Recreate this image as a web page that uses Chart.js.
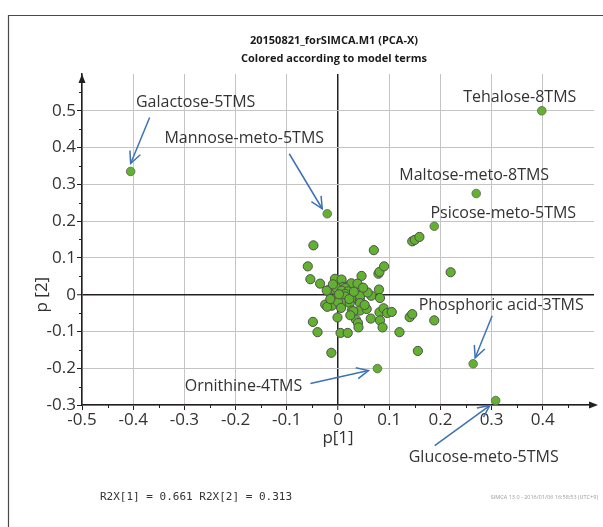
<!DOCTYPE html>
<html>
<head>
<meta charset="utf-8">
<script src="https://cdn.jsdelivr.net/npm/chart.js@4/dist/chart.umd.min.js"></script>
<style>
  html, body { margin: 0; padding: 0; background: #fff; }
  #wrap { position: relative; width: 603px; height: 527px; }
</style>
</head>
<body>
<div id="wrap"><canvas id="c" width="603" height="527"></canvas></div>
<script>
// ---- Data ----
const chartTitle = "20150821_forSIMCA.M1 (PCA-X)";
const chartSubtitle = "Colored according to model terms";
const xAxisTitle = "p[1]";
const yAxisTitle = "p [2]";
const footerText = "R2X[1] = 0.661 R2X[2] = 0.313";
const stampText = "SIMCA 13.0 - 2016/01/06 16:58:53 (UTC+9)";

// unlabeled loadings p[1], p[2]
const p1 = [0.145,0.150,0.159,-0.048,0.070,-0.059,-0.054,-0.035,0.079,0.081,0.090,0.046,0.220,
  -0.006,0.007,-0.019,-0.006,0.010,0.020,0.036,0.026,0.038,-0.003,0.014,-0.022,0.007,0.020,0.036,0.014,
  0.080,0.065,-0.003,0.014,0.030,0.043,0.043,0.082,-0.025,-0.012,-0.021,0.010,0.023,0.043,0.000,
  0.027,0.043,0.056,0.030,0.081,0.089,0.096,0.105,-0.001,0.035,0.039,0.040,0.064,0.082,0.087,
  0.140,0.145,0.188,-0.049,-0.040,0.005,0.019,0.120,-0.013,0.156,
  0.002,0.022,-0.010,0.031,0.052,-0.015,0.006,0.058,0.024,0.049];
const p2 = [0.145,0.149,0.157,0.134,0.121,0.077,0.042,0.030,0.057,0.062,0.077,0.051,0.061,
  0.043,0.041,0.012,0.014,0.021,0.024,0.027,0.031,0.030,0.018,0.018,0.011,0.011,0.009,0.000,0.002,
  0.014,-0.003,-0.009,-0.005,-0.009,-0.014,-0.003,-0.009,-0.027,-0.030,-0.033,-0.023,-0.023,-0.023,-0.020,
  -0.043,-0.043,-0.039,-0.045,-0.048,-0.037,-0.050,-0.047,-0.062,-0.068,-0.077,-0.089,-0.065,-0.070,-0.089,
  -0.061,-0.053,-0.070,-0.074,-0.102,-0.104,-0.104,-0.102,-0.158,-0.153,
  0.001,-0.012,0.028,0.008,-0.028,-0.012,-0.036,0.006,-0.056,0.019];

// labeled variables
const labelNames = ["Galactose-5TMS","Mannose-meto-5TMS","Tehalose-8TMS","Maltose-meto-8TMS",
  "Psicose-meto-5TMS","Phosphoric acid-3TMS","Ornithine-4TMS","Glucose-meto-5TMS"];
const labelP1 = [-0.405,-0.021,0.398,0.270,0.188,0.264,0.077,0.308];
const labelP2 = [0.335,0.220,0.500,0.275,0.186,-0.188,-0.201,-0.288];

// axis ticks
const xTicks = [-0.5,-0.4,-0.3,-0.2,-0.1,0,0.1,0.2,0.3,0.4];
const yTicks = [-0.3,-0.2,-0.1,0,0.1,0.2,0.3,0.4,0.5];

// ---- Layout (pixel offsets from the point: label centre, arrow start, arrow tip) ----
const labelLayout = [
  {lx: 65, ly: -69, arrow: [19, -54, 0, -8]},
  {lx: -83, ly: -75, arrow: [-38, -60, -5, -5]},
  {lx: -22, ly: -13, arrow: null},
  {lx: -2, ly: -18, arrow: null},
  {lx: 69, ly: -13, arrow: null},
  {lx: 28, ly: -58, arrow: [19, -48, 2, -6]},
  {lx: -134, ly: 18, arrow: [-67, 15, -9, 2]},
  {lx: -12, ly: 57, arrow: [-61, 45, -6, 5]}
];

const FONT = "'Open Sans', 'Noto Sans', sans-serif";
const GREEN = '#62b22f';
const AXIS = '#231f20';

const pts = p1.map((x, i) => ({x, y: p2[i]}));
const lpts = labelP1.map((x, i) => ({x, y: labelP2[i]}));

function drawArrowHead(ctx, x0, y0, x1, y1, len) {
  const a = Math.atan2(y1 - y0, x1 - x0);
  const s = Math.PI / 7;
  ctx.beginPath();
  ctx.moveTo(x1 - len * Math.cos(a - s), y1 - len * Math.sin(a - s));
  ctx.lineTo(x1, y1);
  ctx.lineTo(x1 - len * Math.cos(a + s), y1 - len * Math.sin(a + s));
  ctx.stroke();
}

const decor = {
  id: 'decor',
  beforeDraw(chart) {
    const ctx = chart.ctx;
    ctx.save();
    ctx.fillStyle = '#fff';
    ctx.fillRect(0, 0, chart.width, chart.height);
    // frame
    ctx.strokeStyle = '#4a4a4a';
    ctx.lineWidth = 1.2;
    ctx.beginPath();
    ctx.moveTo(8.5, chart.height);
    ctx.lineTo(8.5, 15.5);
    ctx.lineTo(chart.width, 15.5);
    ctx.stroke();
    // titles
    ctx.fillStyle = '#1a1a1a';
    ctx.textAlign = 'center';
    ctx.textBaseline = 'middle';
    ctx.font = "bold 11px " + FONT;
    ctx.fillText(chartTitle, 334, 41);
    ctx.fillText(chartSubtitle, 334, 59);
    // footer
    ctx.textAlign = 'left';
    ctx.fillStyle = '#333';
    ctx.font = "11px 'DejaVu Sans Mono', monospace";
    ctx.fillText(footerText, 100, 497);
    ctx.textAlign = 'right';
    ctx.fillStyle = '#9a9a9a';
    ctx.font = "5.5px " + FONT;
    ctx.fillText(stampText, 598, 497);
    ctx.restore();
  },
  afterDraw(chart) {
    const ctx = chart.ctx;
    const xs = chart.scales.x, ys = chart.scales.y;
    const a = chart.chartArea;
    ctx.save();
    ctx.strokeStyle = AXIS;
    ctx.fillStyle = AXIS;
    ctx.lineWidth = 1;
    // minor ticks
    for (let v = -0.45; v < 0.5; v += 0.1) {
      const px = Math.round(xs.getPixelForValue(v)) + 0.5;
      ctx.beginPath(); ctx.moveTo(px, a.bottom); ctx.lineTo(px, a.bottom + 3); ctx.stroke();
    }
    for (let v = -0.25; v < 0.6; v += 0.1) {
      const py = Math.round(ys.getPixelForValue(v)) + 0.5;
      ctx.beginPath(); ctx.moveTo(a.left, py); ctx.lineTo(a.left - 3, py); ctx.stroke();
    }
    // axis arrows
    ctx.beginPath();
    ctx.moveTo(a.right + 4, a.bottom);
    ctx.lineTo(a.right - 5, a.bottom - 3.5);
    ctx.lineTo(a.right - 5, a.bottom + 3.5);
    ctx.closePath(); ctx.fill();
    ctx.beginPath();
    ctx.moveTo(a.left, a.top);
    ctx.lineTo(a.left - 3.5, a.top + 9);
    ctx.lineTo(a.left + 3.5, a.top + 9);
    ctx.closePath(); ctx.fill();
    // y axis title
    ctx.save();
    ctx.translate(42, ys.getPixelForValue(0));
    ctx.rotate(-Math.PI / 2);
    ctx.textAlign = 'center';
    ctx.textBaseline = 'middle';
    ctx.fillStyle = '#333';
    ctx.font = "17px " + FONT;
    ctx.fillText(yAxisTitle, 0, 0);
    ctx.restore();
    ctx.restore();
  },
  afterDatasetsDraw(chart) {
    const ctx = chart.ctx;
    const meta = chart.getDatasetMeta(1);
    ctx.save();
    ctx.font = "16px " + FONT;
    ctx.textAlign = 'center';
    ctx.textBaseline = 'middle';
    labelNames.forEach((name, i) => {
      const el = meta.data[i];
      const L = labelLayout[i];
      ctx.fillStyle = '#333';
      ctx.fillText(name, el.x + L.lx, el.y + L.ly);
      if (L.arrow) {
        const [sx, sy, ex, ey] = L.arrow;
        ctx.strokeStyle = '#3d72b4';
        ctx.lineWidth = 1.5;
        ctx.beginPath();
        ctx.moveTo(el.x + sx, el.y + sy);
        ctx.lineTo(el.x + ex, el.y + ey);
        ctx.stroke();
        drawArrowHead(ctx, el.x + sx, el.y + sy, el.x + ex, el.y + ey, 13);
      }
    });
    ctx.restore();
  }
};

const gridColor = c => (c.tick && c.tick.value === 0) ? AXIS : '#c4c4c4';
const gridWidth = c => (c.tick && c.tick.value === 0) ? 1.5 : 1;

new Chart(document.getElementById('c'), {
  type: 'scatter',
  data: {
    datasets: [
      {data: pts, backgroundColor: GREEN, borderColor: '#505050', borderWidth: 1, pointRadius: 4.6, pointHoverRadius: 4.6},
      {data: lpts, backgroundColor: GREEN, borderColor: '#606060', borderWidth: 0.8, pointRadius: 4.3, pointHoverRadius: 4.3}
    ]
  },
  options: {
    responsive: false,
    animation: false,
    events: [],
    layout: {padding: {left: 0, top: 74, right: 9, bottom: 72}},
    plugins: {legend: {display: false}, tooltip: {enabled: false}, title: {display: false}},
    scales: {
      x: {
        type: 'linear', min: -0.5, max: 0.5,
        afterFit: s => { s.height = 50; },
        afterBuildTicks: s => { s.ticks = xTicks.map(v => ({value: v})); },
        ticks: {color: '#333', font: {family: FONT, size: 17}, padding: 0, maxRotation: 0,
          callback: v => String(+v.toFixed(1))},
        grid: {color: gridColor, lineWidth: gridWidth, tickColor: AXIS, tickLength: 5, tickWidth: 1},
        border: {color: AXIS, width: 1.5},
        title: {display: true, text: xAxisTitle, color: '#333', font: {family: FONT, size: 17}, padding: {top: 0, bottom: 7}}
      },
      y: {
        type: 'linear', min: -0.3, max: 0.6,
        afterFit: s => { s.width = 82; },
        afterBuildTicks: s => { s.ticks = yTicks.map(v => ({value: v})); },
        ticks: {color: '#333', font: {family: FONT, size: 17}, padding: 1,
          callback: v => String(+v.toFixed(1))},
        grid: {color: gridColor, lineWidth: gridWidth, tickColor: AXIS, tickLength: 5, tickWidth: 1},
        border: {color: AXIS, width: 1.5}
      }
    }
  },
  plugins: [decor]
});
</script>
</body>
</html>
